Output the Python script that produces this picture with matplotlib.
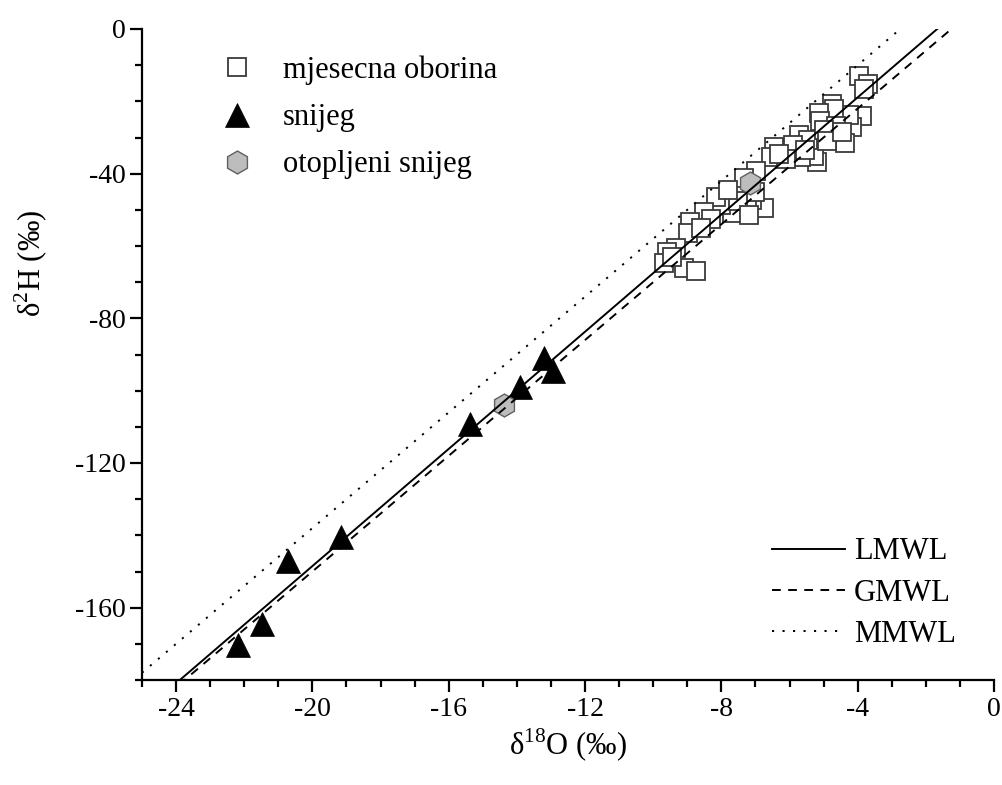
import numpy as np
import matplotlib
matplotlib.use("Agg")
import matplotlib.pyplot as plt
from matplotlib.ticker import MultipleLocator

# mjesecna oborina (monthly precipitation)
rain_o18 = [-3.97, -3.71, -3.81, -3.88, -4.18, -4.37, -4.25, -4.74, -4.69, -5.13,
            -5.11, -4.64, -5.20, -5.28, -5.72, -5.67, -5.47, -6.40, -6.47, -6.55,
            -6.99, -7.34, -6.75, -7.09, -7.24, -7.68, -8.02, -8.17, -8.51, -8.92,
            -8.98, -9.34, -9.59, -9.69, -9.10, -8.75, -5.00, -5.90, -6.10, -4.90,
            -6.30, -7.00, -7.50, -7.80, -8.30, -8.60, -7.20, -9.45, -5.55, -4.45]
rain_h2 = [-13.0, -15.3, -16.5, -24.1, -27.0, -31.6, -23.8, -20.6, -22.2, -23.3,
           -25.3, -26.8, -36.7, -35.0, -29.3, -35.3, -30.7, -33.0, -32.5, -35.3,
           -39.4, -41.3, -49.6, -47.3, -49.1, -51.0, -48.7, -46.4, -50.7, -53.5,
           -56.5, -60.6, -61.6, -64.8, -66.2, -66.8, -28.0, -32.0, -36.0, -31.0,
           -34.5, -45.0, -47.5, -44.5, -52.5, -55.0, -51.5, -63.0, -33.5, -28.5]

# snijeg (snow)
snow_o18 = [-22.17, -21.47, -20.71, -19.16, -15.38, -13.90, -13.21, -12.94]
snow_h2 = [-170.3, -164.5, -147.0, -140.4, -109.2, -98.9, -91.0, -94.5]

# otopljeni snijeg (melted snow)
melt_o18 = [-14.39, -7.17]
melt_h2 = [-104.0, -42.6]

# meteoric water lines: slope, intercept
lmwl = (8.1, 13.5)
gmwl = (8.0, 10.0)
mmwl = (8.0, 22.0)

plt.rcParams['font.family'] = ['Liberation Serif', 'DejaVu Serif']
plt.rcParams['mathtext.fontset'] = 'custom'
plt.rcParams['mathtext.rm'] = 'Liberation Serif'
plt.rcParams['axes.unicode_minus'] = False

fig = plt.figure(figsize=(10.02, 7.85), dpi=100)
ax = fig.add_axes([142 / 1002, 1 - 680 / 785, 852 / 1002, 651 / 785])

sq, = ax.plot(rain_o18, rain_h2, 's', ms=13.3, mfc='white', mec='#3a3a3a',
              mew=1.3, label='mjesecna oborina', zorder=2)
tr, = ax.plot(snow_o18, snow_h2, '^', ms=17, mfc='black', mec='black',
              mew=0.5, label='snijeg', zorder=2)
hx, = ax.plot(melt_o18, melt_h2, 'h', ms=16.5, mfc='#bdbdbd', mec='#606060',
              mew=1.0, label='otopljeni snijeg', zorder=2)

xs = np.array([-25.0, 0.0])
l1, = ax.plot(xs, lmwl[0] * xs + lmwl[1], '-', color='black', lw=1.4,
              label='LMWL', zorder=3)
l2, = ax.plot(xs, gmwl[0] * xs + gmwl[1], color='black', lw=1.4,
              dashes=(4.5, 3.8), label='GMWL', zorder=3)
l3, = ax.plot(xs, mmwl[0] * xs + mmwl[1], color='black', lw=1.4,
              dashes=(1.1, 4.3), label='MMWL', zorder=3)

ax.set_xlim(-25, 0)
ax.set_ylim(-180, 0)
ax.xaxis.set_major_locator(MultipleLocator(4))
ax.xaxis.set_minor_locator(MultipleLocator(1))
ax.yaxis.set_major_locator(MultipleLocator(40))
ax.yaxis.set_minor_locator(MultipleLocator(10))

for s in ['top', 'right']:
    ax.spines[s].set_visible(False)
for s in ['left', 'bottom']:
    ax.spines[s].set_linewidth(1.6)
ax.tick_params(which='major', length=8.5, width=1.6, labelsize=20, direction='out')
ax.tick_params(which='minor', length=5, width=1.6, direction='out')

ax.set_xlabel('δ$^{18}$O (‰)', fontsize=22)
ax.set_ylabel('δ$^{2}$H (‰)', fontsize=22)
ax.yaxis.set_label_coords(-0.108, 0.64)

leg1 = ax.legend(handles=[sq, tr, hx], loc='upper left',
                 bbox_to_anchor=(0.094, 0.959), frameon=False, fontsize=22,
                 borderpad=0, borderaxespad=0, handlelength=1.0,
                 handletextpad=1.0, labelspacing=0.59)
ax.add_artist(leg1)
ax.legend(handles=[l1, l2, l3], loc='upper left', bbox_to_anchor=(0.739, 0.219),
          frameon=False, fontsize=22, borderpad=0, borderaxespad=0,
          handlelength=2.4, handletextpad=0.3, labelspacing=0.4)

fig.savefig('out.png', dpi=100)
